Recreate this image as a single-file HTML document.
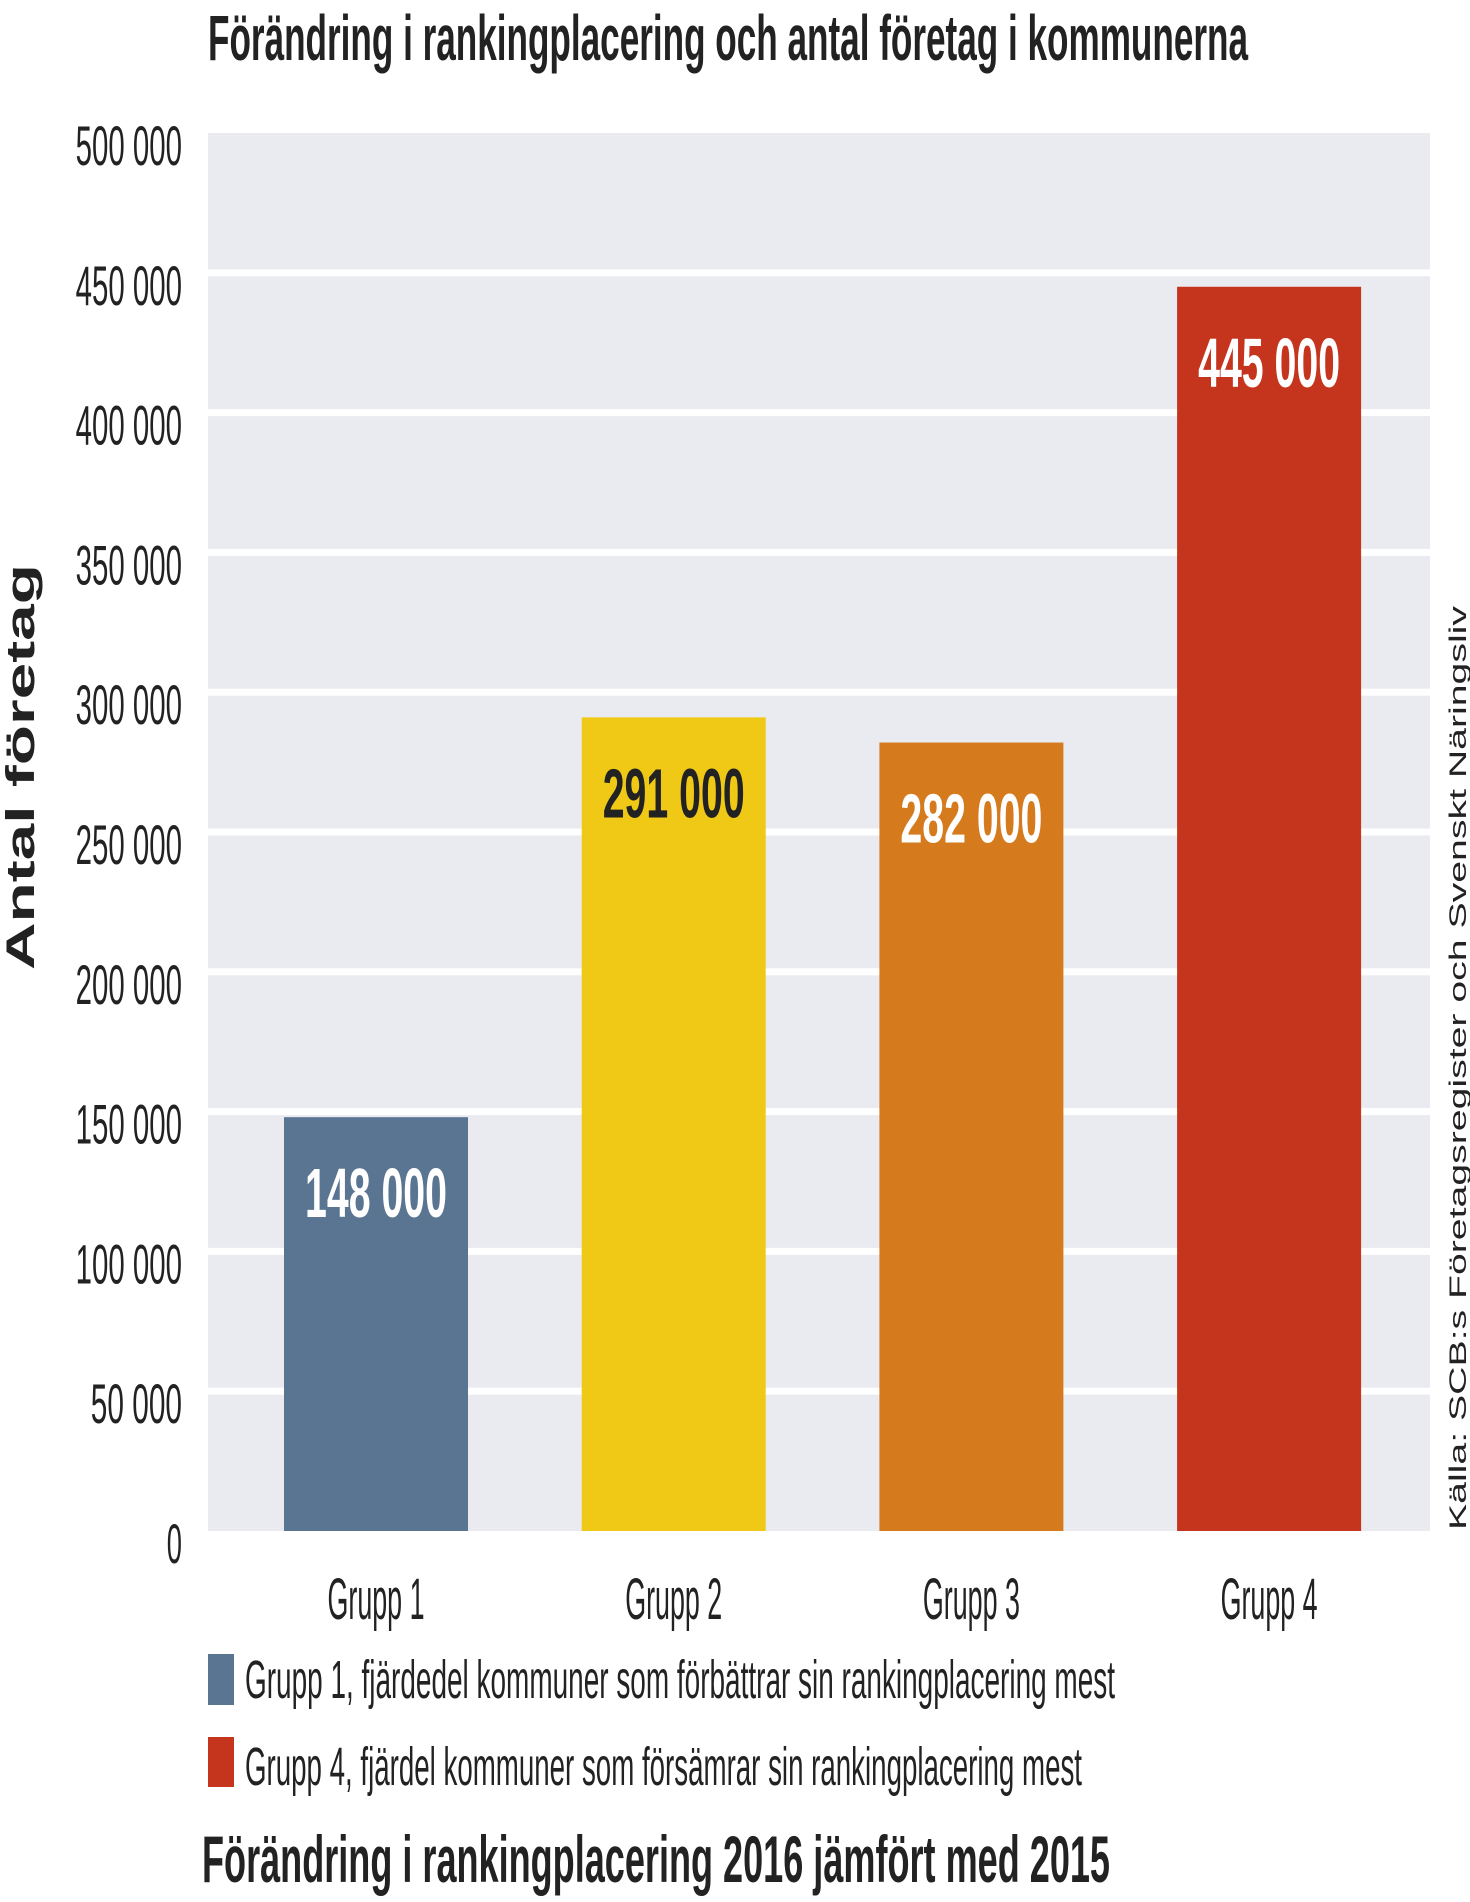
<!DOCTYPE html>
<html><head><meta charset="utf-8"><style>
html,body{margin:0;padding:0;background:#fff;}
svg{display:block;font-family:"Liberation Sans",sans-serif;}
</style></head><body>
<svg id="chart" width="1470" height="1902" viewBox="0 0 1470 1902">
<text x="208" y="60" font-size="64" font-weight="bold" fill="#222" textLength="1040" lengthAdjust="spacingAndGlyphs">Förändring i rankingplacering och antal företag i kommunerna</text>
<rect x="208" y="133" width="1222" height="1398" fill="#e9ebf0"/>
<g id="grid"></g>
<g id="yticks"></g>
<g id="bars"></g>
<g id="xlabels"></g>
<text transform="translate(34,767) rotate(-90)" text-anchor="middle" font-size="40" font-weight="bold" fill="#222" textLength="406" lengthAdjust="spacingAndGlyphs">Antal företag</text>
<text transform="translate(1466,1068) rotate(-90)" text-anchor="middle" font-size="24" fill="#222" textLength="924" lengthAdjust="spacingAndGlyphs">Källa: SCB:s Företagsregister och Svenskt Näringsliv</text>
<rect x="208" y="1654" width="26" height="51" fill="#5a7592"/>
<text x="245" y="1698" font-size="54" fill="#222" textLength="870" lengthAdjust="spacingAndGlyphs">Grupp 1, fjärdedel kommuner som förbättrar sin rankingplacering mest</text>
<rect x="208" y="1737" width="26" height="50" fill="#c5341c"/>
<text x="245" y="1785" font-size="54" fill="#222" textLength="837" lengthAdjust="spacingAndGlyphs">Grupp 4, fjärdel kommuner som försämrar sin rankingplacering mest</text>
<text x="202" y="1882" font-size="66" font-weight="bold" fill="#222" textLength="908" lengthAdjust="spacingAndGlyphs">Förändring i rankingplacering 2016 jämfört med 2015</text>
</svg>
<script>
const categories = ["Grupp 1", "Grupp 2", "Grupp 3", "Grupp 4"];
const values = [148000, 291000, 282000, 445000];
const valueLabels = ["148 000", "291 000", "282 000", "445 000"];
const tickValues = [0, 50000, 100000, 150000, 200000, 250000, 300000, 350000, 400000, 450000, 500000];
const tickLabels = ["0", "50 000", "100 000", "150 000", "200 000", "250 000", "300 000", "350 000", "400 000", "450 000", "500 000"];
const barColors = ["#5a7592", "#f0c916", "#d57b1e", "#c5341c"];
const labelColors = ["#fff", "#222", "#fff", "#fff"];

const NS = "http://www.w3.org/2000/svg";
const y0 = 1531, yTop = 133, vMax = 500000;
function yScale(v){ return y0 - (v / vMax) * (y0 - yTop); }
function xCenter(i){ return 376 + i * 297.7; }
const barW = 184;
function mk(tag, attrs, parent, text){
  const el = document.createElementNS(NS, tag);
  for (const k in attrs) el.setAttribute(k, attrs[k]);
  if (text !== undefined) el.textContent = text;
  parent.appendChild(el);
  return el;
}
const grid = document.getElementById('grid');
const yt = document.getElementById('yticks');
tickValues.forEach((t, i) => {
  const y = yScale(t);
  if (t > 0 && t < vMax) {
    const l = mk('rect', {x: 208, y: y - 3.5, width: 1222, height: 7, fill: '#fff'}, grid);
    
    
  }
  const lab = tickLabels[i];
  const tx = mk('text', {x: 182, y: y + 32, 'text-anchor': 'end', 'font-size': 56, fill: '#222', textLength: lab.length * 15.2, lengthAdjust: 'spacingAndGlyphs'}, yt, lab);
  
  
});
const bars = document.getElementById('bars');
const xl = document.getElementById('xlabels');
values.forEach((v, i) => {
  const top = yScale(v);
  const r = mk('rect', {x: xCenter(i) - barW / 2, y: top, width: barW, height: y0 - top, fill: barColors[i]}, bars);
  
  
  const t = mk('text', {x: xCenter(i), y: top + 100, 'text-anchor': 'middle', 'font-size': 70, 'font-weight': 'bold', fill: labelColors[i], textLength: 142, lengthAdjust: 'spacingAndGlyphs'}, bars, valueLabels[i]);
  
  
  const c = mk('text', {x: xCenter(i), y: 1619, 'text-anchor': 'middle', 'font-size': 58, fill: '#222', textLength: 97, lengthAdjust: 'spacingAndGlyphs'}, xl, categories[i]);
  
  
});
</script>
</body></html>
